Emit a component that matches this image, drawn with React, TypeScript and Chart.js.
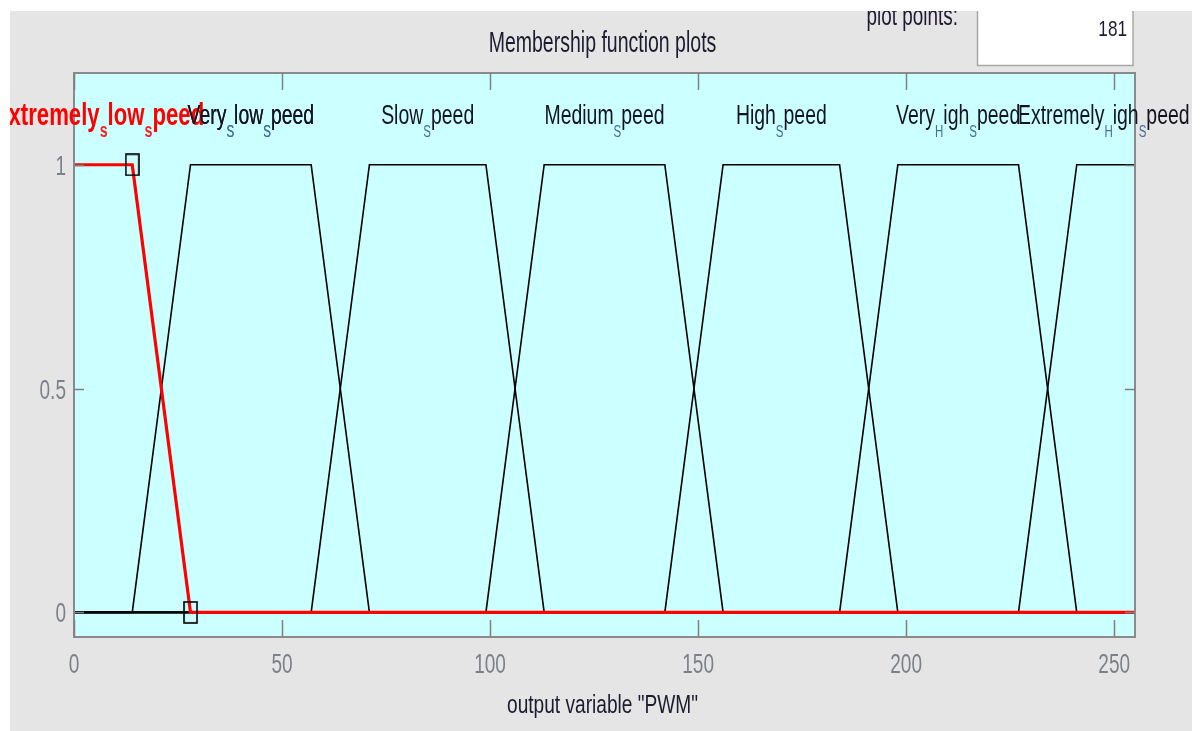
import React, { useEffect, useRef } from 'react';
import { Chart, registerables } from 'chart.js';

Chart.register(...registerables);

// ---- data ----
const mfNames = [
  'Extremely_slow_speed',
  'Very_Slow_Speed',
  'Slow_Speed',
  'Medium_Speed',
  'High_Speed',
  'Very_High_Speed',
  'Extremely_High_Speed',
];
const extremelyLowX = [0, 14, 28, 255];
const extremelyLowY = [1, 1, 0, 0];
const veryLowX = [0, 14, 28, 57, 71, 255];
const veryLowY = [0, 0, 1, 1, 0, 0];
const slowX = [0, 57, 71, 99, 113, 255];
const slowY = [0, 0, 1, 1, 0, 0];
const mediumX = [0, 99, 113, 142, 156, 255];
const mediumY = [0, 0, 1, 1, 0, 0];
const highX = [0, 142, 156, 184, 198, 255];
const highY = [0, 0, 1, 1, 0, 0];
const veryHighX = [0, 184, 198, 227, 241, 255];
const veryHighY = [0, 0, 1, 1, 0, 0];
const extremelyHighX = [0, 227, 241, 255];
const extremelyHighY = [0, 0, 1, 1];
const selectedMarkerIdx = [1, 2];
const labelX = [6, 42.5, 85, 127.5, 170, 212.5, 247.5];
const xTicks = [0, 50, 100, 150, 200, 250];
const xTickLabels = ['0', '50', '100', '150', '200', '250'];
const yTicks = [0, 0.5, 1];
const yTickLabels = ['0', '0.5', '1'];
const titleText = 'Membership function plots';
const xAxisTitle = 'output variable "PWM"';
const plotPointsLabel = 'plot points:';
const plotPointsValue = '181';

const FONT = '"Liberation Sans", Arial, Helvetica, sans-serif';

function pts(xs: number[], ys: number[]) {
  return xs.map((x, i) => ({ x, y: ys[i] }));
}

function drawScaled(
  ctx: CanvasRenderingContext2D,
  text: string,
  x: number,
  y: number,
  font: string,
  color: string,
  sx: number,
  align: 'left' | 'center' | 'right'
) {
  ctx.save();
  ctx.font = font;
  ctx.fillStyle = color;
  ctx.textBaseline = 'alphabetic';
  const w = ctx.measureText(text).width * sx;
  let left = x;
  if (align === 'center') left = x - w / 2;
  else if (align === 'right') left = x - w;
  ctx.translate(left, y);
  ctx.scale(sx, 1);
  ctx.textAlign = 'left';
  ctx.fillText(text, 0, 0);
  ctx.restore();
}

function drawTeX(
  ctx: CanvasRenderingContext2D,
  str: string,
  cx: number,
  baseline: number,
  mainFont: string,
  subFont: string,
  color: string,
  subColor: string,
  subDy: number,
  sx: number
) {
  const parts = str.split('_');
  const segs: { t: string; sub: boolean }[] = [{ t: parts[0], sub: false }];
  for (let i = 1; i < parts.length; i++) {
    segs.push({ t: parts[i].slice(0, 1), sub: true });
    segs.push({ t: parts[i].slice(1), sub: false });
  }
  ctx.save();
  let total = 0;
  const widths = segs.map((s) => {
    ctx.font = s.sub ? subFont : mainFont;
    const w = ctx.measureText(s.t).width;
    total += w;
    return w;
  });
  ctx.translate(cx - (total * sx) / 2, baseline);
  ctx.scale(sx, 1);
  ctx.textAlign = 'left';
  ctx.textBaseline = 'alphabetic';
  let x = 0;
  segs.forEach((s, i) => {
    ctx.font = s.sub ? subFont : mainFont;
    ctx.fillStyle = s.sub ? subColor : color;
    ctx.fillText(s.t, x, s.sub ? subDy : 0);
    x += widths[i];
  });
  ctx.restore();
}

const matlabPlugin = {
  id: 'matlabLook',
  beforeDraw(chart: any) {
    const { ctx, chartArea } = chart;
    const W = chart.width;
    const H = chart.height;
    ctx.save();
    ctx.fillStyle = '#ffffff';
    ctx.fillRect(0, 0, W, H);
    ctx.fillStyle = '#e5e5e5';
    ctx.fillRect(10, 11, 1182, H - 11);
    ctx.fillStyle = '#ccffff';
    ctx.fillRect(chartArea.left, chartArea.top, chartArea.right - chartArea.left, chartArea.bottom - chartArea.top);

    // clip to gray panel
    ctx.beginPath();
    ctx.rect(10, 11, 1182, H - 11);
    ctx.clip();

    // plot points box
    ctx.fillStyle = '#ffffff';
    ctx.fillRect(977, 0, 156, 65);
    ctx.strokeStyle = '#a8a8a8';
    ctx.lineWidth = 1.5;
    ctx.strokeRect(977.5, -5, 155.5, 70.5);
    drawScaled(ctx, plotPointsValue, 1127, 36, `22px ${FONT}`, '#201a30', 0.78, 'right');
    drawScaled(ctx, plotPointsLabel, 958, 25, `27px ${FONT}`, '#201a30', 0.7, 'right');

    // title
    const cx = (chartArea.left + chartArea.right) / 2;
    drawScaled(ctx, titleText, cx - 2, 52, `30px ${FONT}`, '#1c1c30', 0.65, 'center');
    ctx.restore();
  },
  afterDatasetsDraw(chart: any) {
    const { ctx, chartArea, scales } = chart;
    const xs = scales.x;
    const ys = scales.y;
    const { left, right, top, bottom } = chartArea;
    ctx.save();
    ctx.beginPath();
    ctx.rect(10, 11, 1182, chart.height - 11);
    ctx.clip();

    // frame
    ctx.strokeStyle = '#8a8a8a';
    ctx.lineWidth = 2;
    ctx.strokeRect(left, top, right - left, bottom - top);

    // ticks
    ctx.strokeStyle = '#808080';
    ctx.lineWidth = 1.5;
    ctx.beginPath();
    xTicks.forEach((v) => {
      const px = Math.round(xs.getPixelForValue(v)) + 0.5;
      ctx.moveTo(px, bottom);
      ctx.lineTo(px, bottom - 17);
      ctx.moveTo(px, top);
      ctx.lineTo(px, top + 17);
    });
    yTicks.forEach((v) => {
      const py = Math.round(ys.getPixelForValue(v)) + 0.5;
      ctx.moveTo(left, py);
      ctx.lineTo(left + 10, py);
      ctx.moveTo(right, py);
      ctx.lineTo(right - 10, py);
    });
    ctx.stroke();

    // tick labels
    const tickColor = '#7c8089';
    xTicks.forEach((v, i) => {
      drawScaled(ctx, xTickLabels[i], xs.getPixelForValue(v), bottom + 36, `28px ${FONT}`, tickColor, 0.68, 'center');
    });
    yTicks.forEach((v, i) => {
      drawScaled(ctx, yTickLabels[i], left - 8, ys.getPixelForValue(v) + 10, `28px ${FONT}`, tickColor, 0.68, 'right');
    });

    // membership function labels
    const labelBase = ys.getPixelForValue(1) - 41;
    mfNames.forEach((name, i) => {
      if (i === 0) return;
      drawTeX(ctx, name, xs.getPixelForValue(labelX[i]), labelBase, `27px ${FONT}`, `16px ${FONT}`, '#141420', '#44709a', 13, 0.72);
    });
    drawTeX(ctx, mfNames[0], xs.getPixelForValue(labelX[0]), labelBase + 1, `bold 31px ${FONT}`, `bold 20px ${FONT}`, '#ff0000', '#ff2020', 12, 0.715);
    // redraw black label over red overlap
    drawTeX(ctx, mfNames[1], xs.getPixelForValue(labelX[1]), labelBase, `27px ${FONT}`, `16px ${FONT}`, '#141420', '#44709a', 13, 0.72);

    // x axis title
    drawScaled(ctx, xAxisTitle, (left + right) / 2 - 2, bottom + 76, `26px ${FONT}`, '#1c1c30', 0.735, 'center');
    ctx.restore();
  },
};

export default function App() {
  const canvasRef = useRef<HTMLCanvasElement | null>(null);

  useEffect(() => {
    const canvas = canvasRef.current;
    if (!canvas) return;
    const marker = document.createElement('canvas');
    marker.width = 15;
    marker.height = 23;
    const mctx = marker.getContext('2d')!;
    mctx.strokeStyle = '#000000';
    mctx.lineWidth = 1.6;
    mctx.strokeRect(1, 1, 13, 21);

    const black = (xsArr: number[], ysArr: number[]) => ({
      data: pts(xsArr, ysArr),
      borderColor: '#000000',
      borderWidth: 1.6,
      pointRadius: 0,
      fill: false,
      tension: 0,
    });

    const chart = new Chart(canvas, {
      type: 'line',
      data: {
        datasets: [
          {
            data: pts(extremelyLowX, extremelyLowY),
            borderColor: '#ff0000',
            borderWidth: 3.2,
            fill: false,
            tension: 0,
            pointRadius: extremelyLowX.map((_, i) => (selectedMarkerIdx.includes(i) ? 8 : 0)),
            pointStyle: marker as any,
          } as any,
          black(veryLowX, veryLowY),
          black(slowX, slowY),
          black(mediumX, mediumY),
          black(highX, highY),
          black(veryHighX, veryHighY),
          black(extremelyHighX, extremelyHighY),
        ],
      },
      options: {
        animation: false,
        responsive: false,
        events: [],
        layout: { padding: { left: 74, top: 73, right: 69, bottom: 94 } },
        scales: {
          x: { type: 'linear', min: 0, max: 255, display: false },
          y: { type: 'linear', min: -0.055, max: 1.205, display: false },
        },
        plugins: {
          legend: { display: false },
          tooltip: { enabled: false },
        },
      },
      plugins: [matlabPlugin],
    });
    return () => chart.destroy();
  }, []);

  return (
    <div style={{ position: 'absolute', left: 0, top: 0, width: 1204, height: 731 }}>
      <canvas ref={canvasRef} width={1204} height={731} style={{ display: 'block' }} />
    </div>
  );
}
